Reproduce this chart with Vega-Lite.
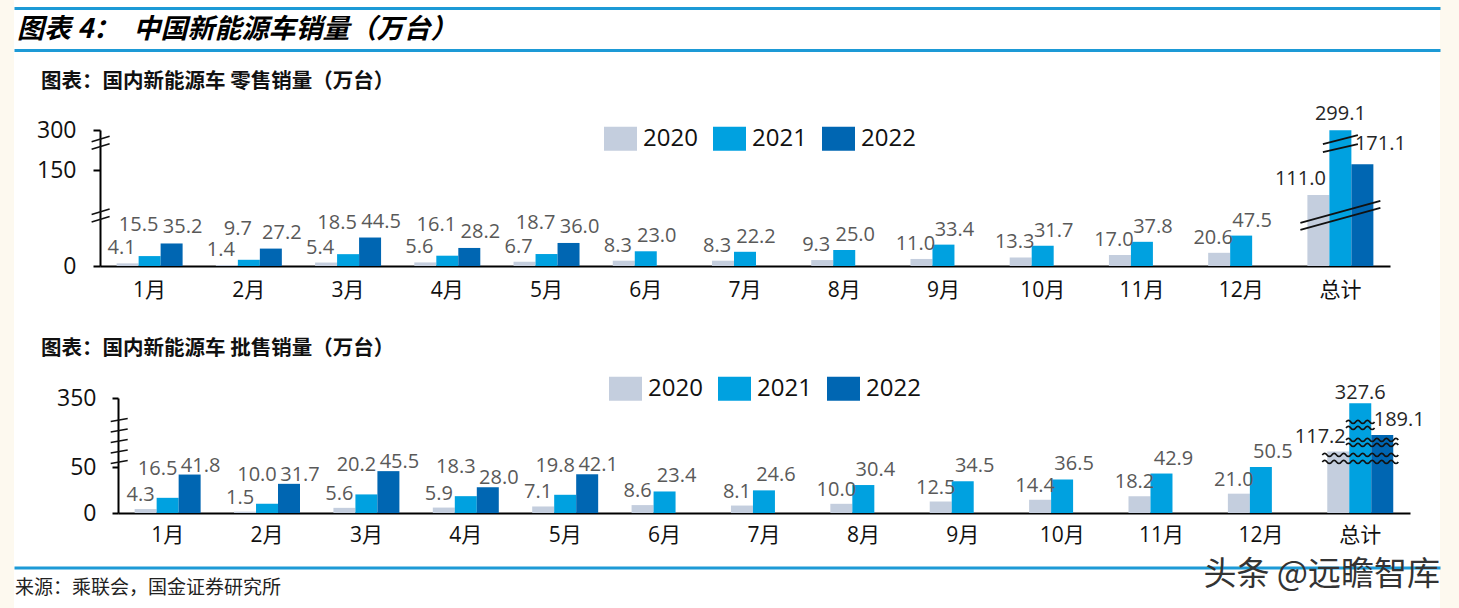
{
  "$schema": "https://vega.github.io/schema/vega-lite/v6.json",
  "background": "#fdf9ef",
  "padding": {"left": 14, "right": 19, "top": 0, "bottom": 0},
  "spacing": 0,
  "resolve": {"scale": {"color": "independent"}},
  "config": {
    "view": {"fill": "white", "stroke": null},
    "font": "Open Sans, Noto Sans CJK SC"
  },
  "datasets": {
    "retail": [
      {"m": "1月", "yr": "2020", "v": 4.1}, {"m": "1月", "yr": "2021", "v": 15.5}, {"m": "1月", "yr": "2022", "v": 35.2},
      {"m": "2月", "yr": "2020", "v": 1.4}, {"m": "2月", "yr": "2021", "v": 9.7}, {"m": "2月", "yr": "2022", "v": 27.2},
      {"m": "3月", "yr": "2020", "v": 5.4}, {"m": "3月", "yr": "2021", "v": 18.5}, {"m": "3月", "yr": "2022", "v": 44.5},
      {"m": "4月", "yr": "2020", "v": 5.6}, {"m": "4月", "yr": "2021", "v": 16.1}, {"m": "4月", "yr": "2022", "v": 28.2},
      {"m": "5月", "yr": "2020", "v": 6.7}, {"m": "5月", "yr": "2021", "v": 18.7}, {"m": "5月", "yr": "2022", "v": 36.0},
      {"m": "6月", "yr": "2020", "v": 8.3}, {"m": "6月", "yr": "2021", "v": 23.0},
      {"m": "7月", "yr": "2020", "v": 8.3}, {"m": "7月", "yr": "2021", "v": 22.2},
      {"m": "8月", "yr": "2020", "v": 9.3}, {"m": "8月", "yr": "2021", "v": 25.0},
      {"m": "9月", "yr": "2020", "v": 11.0}, {"m": "9月", "yr": "2021", "v": 33.4},
      {"m": "10月", "yr": "2020", "v": 13.3}, {"m": "10月", "yr": "2021", "v": 31.7},
      {"m": "11月", "yr": "2020", "v": 17.0}, {"m": "11月", "yr": "2021", "v": 37.8},
      {"m": "12月", "yr": "2020", "v": 20.6}, {"m": "12月", "yr": "2021", "v": 47.5},
      {"m": "总计", "yr": "2020", "v": 111.0}, {"m": "总计", "yr": "2021", "v": 299.1}, {"m": "总计", "yr": "2022", "v": 171.1}
    ],
    "wholesale": [
      {"m": "1月", "yr": "2020", "v": 4.3}, {"m": "1月", "yr": "2021", "v": 16.5}, {"m": "1月", "yr": "2022", "v": 41.8},
      {"m": "2月", "yr": "2020", "v": 1.5}, {"m": "2月", "yr": "2021", "v": 10.0}, {"m": "2月", "yr": "2022", "v": 31.7},
      {"m": "3月", "yr": "2020", "v": 5.6}, {"m": "3月", "yr": "2021", "v": 20.2}, {"m": "3月", "yr": "2022", "v": 45.5},
      {"m": "4月", "yr": "2020", "v": 5.9}, {"m": "4月", "yr": "2021", "v": 18.3}, {"m": "4月", "yr": "2022", "v": 28.0},
      {"m": "5月", "yr": "2020", "v": 7.1}, {"m": "5月", "yr": "2021", "v": 19.8}, {"m": "5月", "yr": "2022", "v": 42.1},
      {"m": "6月", "yr": "2020", "v": 8.6}, {"m": "6月", "yr": "2021", "v": 23.4},
      {"m": "7月", "yr": "2020", "v": 8.1}, {"m": "7月", "yr": "2021", "v": 24.6},
      {"m": "8月", "yr": "2020", "v": 10.0}, {"m": "8月", "yr": "2021", "v": 30.4},
      {"m": "9月", "yr": "2020", "v": 12.5}, {"m": "9月", "yr": "2021", "v": 34.5},
      {"m": "10月", "yr": "2020", "v": 14.4}, {"m": "10月", "yr": "2021", "v": 36.5},
      {"m": "11月", "yr": "2020", "v": 18.2}, {"m": "11月", "yr": "2021", "v": 42.9},
      {"m": "12月", "yr": "2020", "v": 21.0}, {"m": "12月", "yr": "2021", "v": 50.5},
      {"m": "总计", "yr": "2020", "v": 117.2}, {"m": "总计", "yr": "2021", "v": 327.6}, {"m": "总计", "yr": "2022", "v": 189.1}
    ]
  },
  "vconcat": [
    {
      "width": 1426, "height": 56,
      "data": {"values": [{"k": 0}]},
      "title": {"text": "图表 4：\u2002中国新能源车销量（万台）", "anchor": "start", "frame": "group", "orient": "top", "offset": -56.5, "baseline": "middle", "dx": 3, "fontSize": 27, "fontStyle": "italic", "fontWeight": "bold", "font": "Noto Sans CJK SC", "color": "#000"},
      "mark": {"type": "point", "opacity": 0},
      "encoding": {
        "y": {"field": "k", "type": "quantitative", "scale": {"domain": [0, 1], "range": [49.5, 7.5], "nice": false}, "axis": {"values": [0, 1], "grid": true, "gridColor": "#1d9ad6", "gridWidth": 3, "gridOpacity": 1, "domain": false, "ticks": false, "labels": false, "title": null}}
      }
    },
    {
      "width": 1426, "height": 264,
      "data": {"name": "retail"},
      "title": {"text": "图表：国内新能源车 零售销量（万台）", "anchor": "start", "frame": "group", "orient": "top", "offset": -46, "baseline": "middle", "dx": 27, "fontSize": 20.5, "fontWeight": "bold", "font": "Noto Sans CJK SC", "color": "#111"},
      "layer": [
        {"mark": {"type": "bar"},
         "encoding": {
            "x": {"field": "m", "type": "nominal", "scale": {"domain": ["1月","2月","3月","4月","5月","6月","7月","8月","9月","10月","11月","12月","总计"], "range": [86, 1376], "paddingInner": 0.335, "paddingOuter": 0.1675},
                  "axis": {"title": null, "orient": "bottom", "offset": -54, "domainColor": "#000", "domainWidth": 2, "ticks": false, "labelAngle": 0, "labelFontSize": 21, "labelColor": "#111", "labelPadding": 13, "labelFont": "Open Sans, Noto Sans CJK SC", "grid": false}},
            "xOffset": {"field": "yr", "type": "nominal", "scale": {"domain": ["2020", "2021", "2022"], "paddingInner": 0, "paddingOuter": 0}},
            "y": {"field": "v", "type": "quantitative", "scale": {"domain": [0, 150, 300], "range": [210, 114, 74], "nice": false, "zero": false},
                  "axis": {"title": null, "orient": "left", "offset": -86, "values": [0, 150, 300], "domainColor": "#000", "domainWidth": 2, "tickColor": "#000", "tickWidth": 2, "tickSize": 7, "labelFontSize": 23, "labelColor": "#111", "labelPadding": 17, "labelFont": "Open Sans", "grid": false}},
            "color": {"field": "yr", "type": "nominal", "scale": {"domain": ["2020", "2021", "2022"], "range": ["#c4cede", "#00a1e0", "#0066b2"]},
               "legend": {"orient": "none", "legendX": 590, "legendY": 66, "direction": "horizontal", "title": null, "symbolType": "M-1,-0.727L1,-0.727L1,0.727L-1,0.727Z", "symbolSize": 1089, "symbolStrokeWidth": 0, "labelFontSize": 24, "labelColor": "#111", "labelOffset": 6, "columnPadding": 15, "labelFont": "Open Sans"}}
         }},
        {"mark": {"type": "point", "shape": "M-6.444,-0.115L-4.444,-0.725M-6.444,0.725L-4.444,0.115", "size": 324, "filled": false, "color": "#111", "strokeWidth": 1.6, "opacity": 1},
         "transform": [{"filter": "datum.m == '1月' && datum.yr == '2020'"}],
         "encoding": {"x": {"field": "m", "type": "nominal"}, "y": {"datum": 252, "type": "quantitative"}}},
        {"mark": {"type": "point", "shape": "M-6.444,-0.115L-4.444,-0.725M-6.444,0.725L-4.444,0.115", "size": 324, "filled": false, "color": "#111", "strokeWidth": 1.6, "opacity": 1},
         "transform": [{"filter": "datum.m == '1月' && datum.yr == '2020'"}],
         "encoding": {"x": {"field": "m", "type": "nominal"}, "y": {"datum": 79, "type": "quantitative"}}},
        {"mark": {"type": "point", "shape": "M-1,0.1875L1,-0.3625M-1,0.3625L1,-0.1875", "size": 6400, "filled": false, "color": "#111", "strokeWidth": 1.8, "opacity": 1},
         "transform": [{"filter": "datum.m == '总计' && datum.yr == '2020'"}],
         "encoding": {"x": {"field": "m", "type": "nominal"}, "y": {"datum": 79, "type": "quantitative"}}},
        {"mark": {"type": "point", "shape": "M-1,0.014L1,-0.5M-1,0.47L1,0.014", "size": 1225, "filled": false, "color": "#111", "strokeWidth": 1.8, "opacity": 1},
         "transform": [{"filter": "datum.m == '总计' && datum.yr == '2020'"}],
         "encoding": {"x": {"field": "m", "type": "nominal"}, "y": {"datum": 248, "type": "quantitative"}}},
        {"transform": [{"filter": "datum.yr == '2020' && datum.m != '总计'"}],
         "mark": {"type": "text", "baseline": "alphabetic", "dx": -6, "dy": -9, "fontSize": 20, "font": "Open Sans", "color": "#595959"},
         "encoding": {"x": {"field": "m", "type": "nominal"}, "xOffset": {"field": "yr", "type": "nominal"}, "y": {"field": "v", "type": "quantitative"}, "text": {"field": "v", "type": "quantitative", "format": ".1f"}}},
        {"transform": [{"filter": "datum.yr == '2021' && indexof(['1月','2月','3月','4月','5月'], datum.m) >= 0"}],
         "mark": {"type": "text", "baseline": "alphabetic", "dx": -11, "dy": -25, "fontSize": 20, "font": "Open Sans", "color": "#595959"},
         "encoding": {"x": {"field": "m", "type": "nominal"}, "xOffset": {"field": "yr", "type": "nominal"}, "y": {"field": "v", "type": "quantitative"}, "text": {"field": "v", "type": "quantitative", "format": ".1f"}}},
        {"transform": [{"filter": "datum.yr == '2021' && indexof(['6月','7月','8月','9月','10月','11月','12月'], datum.m) >= 0"}],
         "mark": {"type": "text", "baseline": "alphabetic", "dx": 11, "dy": -9, "fontSize": 20, "font": "Open Sans", "color": "#595959"},
         "encoding": {"x": {"field": "m", "type": "nominal"}, "xOffset": {"field": "yr", "type": "nominal"}, "y": {"field": "v", "type": "quantitative"}, "text": {"field": "v", "type": "quantitative", "format": ".1f"}}},
        {"transform": [{"filter": "datum.yr == '2022' && datum.m != '总计'"}],
         "mark": {"type": "text", "baseline": "alphabetic", "dx": 11, "dy": -10, "fontSize": 20, "font": "Open Sans", "color": "#595959"},
         "encoding": {"x": {"field": "m", "type": "nominal"}, "xOffset": {"field": "yr", "type": "nominal"}, "y": {"field": "v", "type": "quantitative"}, "text": {"field": "v", "type": "quantitative", "format": ".1f"}}},
        {"transform": [{"filter": "datum.yr == '2020' && datum.m == '总计'"}],
         "mark": {"type": "text", "baseline": "alphabetic", "dx": -18, "dy": -10, "fontSize": 20, "font": "Open Sans", "color": "#262626"},
         "encoding": {"x": {"field": "m", "type": "nominal"}, "xOffset": {"field": "yr", "type": "nominal"}, "y": {"field": "v", "type": "quantitative"}, "text": {"field": "v", "type": "quantitative", "format": ".1f"}}},
        {"transform": [{"filter": "datum.yr == '2021' && datum.m == '总计'"}],
         "mark": {"type": "text", "baseline": "alphabetic", "dx": 0, "dy": -10, "fontSize": 20, "font": "Open Sans", "color": "#262626"},
         "encoding": {"x": {"field": "m", "type": "nominal"}, "xOffset": {"field": "yr", "type": "nominal"}, "y": {"field": "v", "type": "quantitative"}, "text": {"field": "v", "type": "quantitative", "format": ".1f"}}},
        {"transform": [{"filter": "datum.yr == '2022' && datum.m == '总计'"}],
         "mark": {"type": "text", "baseline": "alphabetic", "dx": 18, "dy": -14, "fontSize": 20, "font": "Open Sans", "color": "#262626"},
         "encoding": {"x": {"field": "m", "type": "nominal"}, "xOffset": {"field": "yr", "type": "nominal"}, "y": {"field": "v", "type": "quantitative"}, "text": {"field": "v", "type": "quantitative", "format": ".1f"}}}
      ]
    },
    {
      "width": 1426, "height": 236,
      "data": {"name": "wholesale"},
      "title": {"text": "图表：国内新能源车 批售销量（万台）", "anchor": "start", "frame": "group", "orient": "top", "offset": -49, "baseline": "middle", "dx": 27, "fontSize": 20.5, "fontWeight": "bold", "font": "Noto Sans CJK SC", "color": "#111"},
      "layer": [
        {"mark": {"type": "bar"},
         "encoding": {
            "x": {"field": "m", "type": "nominal", "scale": {"domain": ["1月","2月","3月","4月","5月","6月","7月","8月","9月","10月","11月","12月","总计"], "range": [104, 1396], "paddingInner": 0.335, "paddingOuter": 0.1675},
                  "axis": {"title": null, "orient": "bottom", "offset": -43, "domainColor": "#000", "domainWidth": 2, "ticks": false, "labelAngle": 0, "labelFontSize": 21, "labelColor": "#111", "labelPadding": 11, "labelFont": "Open Sans, Noto Sans CJK SC", "grid": false}},
            "xOffset": {"field": "yr", "type": "nominal", "scale": {"domain": ["2020", "2021", "2022"], "paddingInner": 0, "paddingOuter": 0}},
            "y": {"field": "v", "type": "quantitative", "scale": {"domain": [0, 50, 350], "range": [193, 147, 78], "nice": false, "zero": false},
                  "axis": {"title": null, "orient": "left", "offset": -104, "values": [0, 50, 350], "domainColor": "#000", "domainWidth": 2, "tickColor": "#000", "tickWidth": 2, "tickSize": 6, "labelFontSize": 23, "labelColor": "#111", "labelPadding": 16, "labelFont": "Open Sans", "grid": false}},
            "color": {"field": "yr", "type": "nominal", "scale": {"domain": ["2020", "2021", "2022"], "range": ["#c4cede", "#00a1e0", "#0066b2"]},
               "legend": {"orient": "none", "legendX": 595, "legendY": 52, "direction": "horizontal", "title": null, "symbolType": "M-1,-0.727L1,-0.727L1,0.727L-1,0.727Z", "symbolSize": 1089, "symbolStrokeWidth": 0, "labelFontSize": 24, "labelColor": "#111", "labelOffset": 6, "columnPadding": 15, "labelFont": "Open Sans"}}
         }},
        {"mark": {"type": "point", "shape": "M-2.374,-0.8125L-1.666,-0.9375M-2.374,-0.375L-1.666,-0.5M-2.374,0.0625L-1.666,-0.0625M-2.374,0.5L-1.666,0.375M-2.374,0.9375L-1.666,0.8125", "size": 2304, "filled": false, "color": "#111", "strokeWidth": 1.6, "opacity": 1},
         "transform": [{"filter": "datum.m == '1月' && datum.yr == '2020'"}],
         "encoding": {"x": {"field": "m", "type": "nominal"}, "y": {"datum": 163, "type": "quantitative"}}},
        {"mark": {"type": "point", "shape": "M-0.375,-0.526Q-0.3125,-0.606,-0.25,-0.526Q-0.1875,-0.446,-0.125,-0.526Q-0.0625,-0.606,0,-0.526Q0.0625,-0.446,0.125,-0.526Q0.1875,-0.606,0.25,-0.526Q0.3125,-0.446,0.375,-0.526M-0.375,-0.368Q-0.3125,-0.448,-0.25,-0.368Q-0.1875,-0.288,-0.125,-0.368Q-0.0625,-0.448,0,-0.368Q0.0625,-0.288,0.125,-0.368Q0.1875,-0.448,0.25,-0.368Q0.3125,-0.288,0.375,-0.368M-0.375,-0.053Q-0.3125,-0.133,-0.25,-0.053Q-0.1875,0.027,-0.125,-0.053Q-0.0625,-0.133,0,-0.053Q0.0625,0.027,0.125,-0.053Q0.1875,-0.133,0.25,-0.053Q0.3125,0.027,0.375,-0.053Q0.4375,-0.133,0.5,-0.053Q0.5625,0.027,0.625,-0.053Q0.6875,-0.133,0.75,-0.053Q0.8125,0.027,0.875,-0.053Q0.9375,-0.133,1,-0.053M-0.375,0.079Q-0.3125,-0.001,-0.25,0.079Q-0.1875,0.159,-0.125,0.079Q-0.0625,-0.001,0,0.079Q0.0625,0.159,0.125,0.079Q0.1875,-0.001,0.25,0.079Q0.3125,0.159,0.375,0.079Q0.4375,-0.001,0.5,0.079Q0.5625,0.159,0.625,0.079Q0.6875,-0.001,0.75,0.079Q0.8125,0.159,0.875,0.079Q0.9375,-0.001,1,0.079M-1,0.342Q-0.9375,0.262,-0.875,0.342Q-0.8125,0.422,-0.75,0.342Q-0.6875,0.262,-0.625,0.342Q-0.5625,0.422,-0.5,0.342Q-0.4375,0.262,-0.375,0.342Q-0.3125,0.422,-0.25,0.342Q-0.1875,0.262,-0.125,0.342Q-0.0625,0.422,0,0.342Q0.0625,0.262,0.125,0.342Q0.1875,0.422,0.25,0.342Q0.3125,0.262,0.375,0.342Q0.4375,0.422,0.5,0.342Q0.5625,0.262,0.625,0.342Q0.6875,0.422,0.75,0.342Q0.8125,0.262,0.875,0.342Q0.9375,0.422,1,0.342M-1,0.526Q-0.9375,0.446,-0.875,0.526Q-0.8125,0.606,-0.75,0.526Q-0.6875,0.446,-0.625,0.526Q-0.5625,0.606,-0.5,0.526Q-0.4375,0.446,-0.375,0.526Q-0.3125,0.606,-0.25,0.526Q-0.1875,0.446,-0.125,0.526Q-0.0625,0.606,0,0.526Q0.0625,0.446,0.125,0.526Q0.1875,0.606,0.25,0.526Q0.3125,0.446,0.375,0.526Q0.4375,0.606,0.5,0.526Q0.5625,0.446,0.625,0.526Q0.6875,0.606,0.75,0.526Q0.8125,0.446,0.875,0.526Q0.9375,0.606,1,0.526", "size": 5776, "filled": false, "color": "#111", "strokeWidth": 1.7, "opacity": 1},
         "transform": [{"filter": "datum.m == '总计' && datum.yr == '2020'"}],
         "encoding": {"x": {"field": "m", "type": "nominal"}, "y": {"datum": 159, "type": "quantitative"}}},
        {"transform": [{"filter": "datum.yr == '2020' && datum.m != '总计'"}],
         "mark": {"type": "text", "baseline": "alphabetic", "dx": -5, "dy": -8, "fontSize": 20, "font": "Open Sans", "color": "#595959"},
         "encoding": {"x": {"field": "m", "type": "nominal"}, "xOffset": {"field": "yr", "type": "nominal"}, "y": {"field": "v", "type": "quantitative"}, "text": {"field": "v", "type": "quantitative", "format": ".1f"}}},
        {"transform": [{"filter": "datum.yr == '2021' && indexof(['1月','2月','3月','4月','5月'], datum.m) >= 0"}],
         "mark": {"type": "text", "baseline": "alphabetic", "dx": -10, "dy": -23, "fontSize": 20, "font": "Open Sans", "color": "#595959"},
         "encoding": {"x": {"field": "m", "type": "nominal"}, "xOffset": {"field": "yr", "type": "nominal"}, "y": {"field": "v", "type": "quantitative"}, "text": {"field": "v", "type": "quantitative", "format": ".1f"}}},
        {"transform": [{"filter": "datum.yr == '2021' && indexof(['6月','7月','8月','9月','10月','11月','12月'], datum.m) >= 0"}],
         "mark": {"type": "text", "baseline": "alphabetic", "dx": 12, "dy": -9, "fontSize": 20, "font": "Open Sans", "color": "#595959"},
         "encoding": {"x": {"field": "m", "type": "nominal"}, "xOffset": {"field": "yr", "type": "nominal"}, "y": {"field": "v", "type": "quantitative"}, "text": {"field": "v", "type": "quantitative", "format": ".1f"}}},
        {"transform": [{"filter": "datum.yr == '2022' && datum.m != '总计'"}],
         "mark": {"type": "text", "baseline": "alphabetic", "dx": 11, "dy": -3, "fontSize": 20, "font": "Open Sans", "color": "#595959"},
         "encoding": {"x": {"field": "m", "type": "nominal"}, "xOffset": {"field": "yr", "type": "nominal"}, "y": {"field": "v", "type": "quantitative"}, "text": {"field": "v", "type": "quantitative", "format": ".1f"}}},
        {"transform": [{"filter": "datum.yr == '2020' && datum.m == '总计'"}],
         "mark": {"type": "text", "baseline": "alphabetic", "dx": -18, "dy": -9, "fontSize": 20, "font": "Open Sans", "color": "#262626"},
         "encoding": {"x": {"field": "m", "type": "nominal"}, "xOffset": {"field": "yr", "type": "nominal"}, "y": {"field": "v", "type": "quantitative"}, "text": {"field": "v", "type": "quantitative", "format": ".1f"}}},
        {"transform": [{"filter": "datum.yr == '2021' && datum.m == '总计'"}],
         "mark": {"type": "text", "baseline": "alphabetic", "dx": 0, "dy": -4, "fontSize": 20, "font": "Open Sans", "color": "#262626"},
         "encoding": {"x": {"field": "m", "type": "nominal"}, "xOffset": {"field": "yr", "type": "nominal"}, "y": {"field": "v", "type": "quantitative"}, "text": {"field": "v", "type": "quantitative", "format": ".1f"}}},
        {"transform": [{"filter": "datum.yr == '2022' && datum.m == '总计'"}],
         "mark": {"type": "text", "baseline": "alphabetic", "dx": 17, "dy": -9, "fontSize": 20, "font": "Open Sans", "color": "#262626"},
         "encoding": {"x": {"field": "m", "type": "nominal"}, "xOffset": {"field": "yr", "type": "nominal"}, "y": {"field": "v", "type": "quantitative"}, "text": {"field": "v", "type": "quantitative", "format": ".1f"}}}
      ]
    },
    {
      "width": 1426, "height": 52,
      "data": {"values": [{"k": 0, "w": "头条 @远瞻智库"}]},
      "title": {"text": "来源：乘联会，国金证券研究所", "anchor": "start", "frame": "group", "orient": "top", "offset": -50.5, "baseline": "middle", "dx": 1, "fontSize": 19, "fontWeight": "normal", "font": "Noto Sans CJK SC", "color": "#222"},
      "mark": {"type": "text", "align": "right", "baseline": "middle", "dx": 1426, "dy": -7, "fontSize": 33, "font": "Noto Sans CJK SC", "color": "#333"},
      "encoding": {
        "x": {"field": "k", "type": "quantitative", "scale": {"domain": [0, 1]}, "axis": {"orient": "top", "offset": -11.5, "domainColor": "#1d9ad6", "domainWidth": 3, "ticks": false, "labels": false, "title": null, "grid": false}},
        "text": {"field": "w", "type": "nominal"}
      }
    }
  ]
}
